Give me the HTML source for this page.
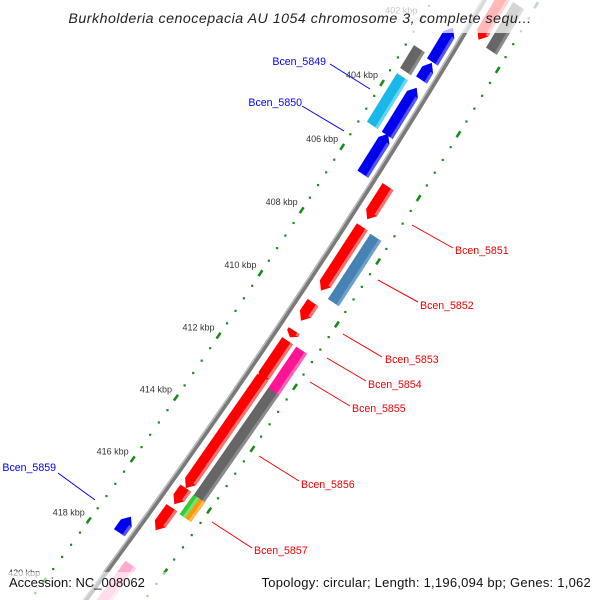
<!DOCTYPE html>
<html><head><meta charset="utf-8"><style>
html,body{margin:0;padding:0;background:#fff;width:600px;height:600px;overflow:hidden;}
svg{display:block;font-family:"Liberation Sans",sans-serif;overflow:hidden;}
</style></head><body>
<svg id="map" width="600" height="600" viewBox="0 0 600 600" xmlns="http://www.w3.org/2000/svg">
<g id="ticks"></g>
<g id="backbone"></g>
<g id="genes"></g>
<g id="labels" font-size="10.6"></g>
<g id="kbp" font-size="9" fill="#333"></g>
<rect x="0" y="0" width="600" height="33" fill="#fff" opacity="0.72"/>
<text x="300" y="23" text-anchor="middle" font-size="14.2" font-style="italic" fill="#222" letter-spacing="0.5">Burkholderia cenocepacia AU 1054 chromosome 3, complete sequ...</text>
<rect x="0" y="572" width="600" height="28" fill="#fff" opacity="0.6"/>
<text x="9" y="587" font-size="13" fill="#111">Accession: NC_008062</text>
<text x="591" y="587" text-anchor="end" font-size="13" fill="#111" letter-spacing="0.24">Topology: circular; Length: 1,196,094 bp; Genes: 1,062</text>
</svg>
<script>
// gene data (kbp)
var geneStart = [401.73,402.69,402.82,403.56,403.59,405.03,417.29,399.60,400.27,406.20,407.47,407.50,409.87,410.77,411.09,411.09,412.26,412.42,415.85,416.49,415.88,415.88,418.35];
var geneEnd   = [402.79,403.40,403.35,405.08,405.08,406.30,417.82,401.62,401.68,407.23,409.49,409.57,410.45,410.98,412.42,412.50,415.85,415.96,416.38,417.23,416.52,416.52,420.60];
var geneLane  = ['fo','fi','fo','fi','fo','fo','fo','ri','ro','ri','ri','ro','ri','ri','ri','ro','ri','ro','ri','ri','g','o','ri'];
var geneArrow = [1,0,1,0,1,1,1,1,0,1,1,0,1,1,1,0,1,0,1,1,0,0,0];
var geneColor = ['#0000ee','#666666','#0000ee','#1ab8e8','#0000ee','#0000ee','#0000ee','#ff0000','#666666','#ff0000','#ff0000','#4682b4','#ff0000','#ff0000','#ff0000','#ff1493','#ff0000','#666666','#ff0000','#ff0000','#33cc33','#ff9900','#ffaad0'];
var geneLight = ['#5555ff','#8a8a8a','#5555ff','#66d6f8','#5555ff','#5555ff','#5555ff','#ff7070','#8a8a8a','#ff7070','#ff7070','#6fa0cc','#ff7070','#ff7070','#ff7070','#ff66b8','#ff7070','#8a8a8a','#ff7070','#ff7070','#77e077','#ffbb55','#ffd0e6'];
var tickMajor = [400,402,404,406,408,410,412,414,416,418,420];
var tickLabels = ['400 kbp','402 kbp','404 kbp','406 kbp','408 kbp','410 kbp','412 kbp','414 kbp','416 kbp','418 kbp','420 kbp'];

var NS='http://www.w3.org/2000/svg';
var O=[465.8,-42], U=[-0.557,0.831], N=[0.831,0.557], PXK=37.6;
function tOf(k){return (k-400)*PXK;}
function bulge(t){return 5-(t-412)*(t-412)/13780;}
function P(t,r){var rr=r+bulge(t);return [O[0]+t*U[0]+rr*N[0], O[1]+t*U[1]+rr*N[1]];}
function pts(a){return a.map(function(p){return p[0].toFixed(1)+','+p[1].toFixed(1);}).join(' ');}
function el(tag,attrs,parent){var e=document.createElementNS(NS,tag);for(var k in attrs)e.setAttribute(k,attrs[k]);parent.appendChild(e);return e;}
var laneR={fi:14,fo:32,ri:60,ro:77,g:73.5,o:80.5};
var laneW={fi:13,fo:13,ri:13,ro:13,g:7,o:7};

// ticks
var tg=document.getElementById('ticks');
[0,92].forEach(function(rt,ti){
  for(var k=399.6;k<=420.8;k+=0.4){
    var kk=Math.round(k*10)/10;var t=tOf(kk);
    var major=Math.abs(kk/2-Math.round(kk/2))<0.01;
    if(major){var a=P(t-3.5,rt),b=P(t+3.5,rt);
      var d=el('line',{x1:a[0],y1:a[1],x2:b[0],y2:b[1],stroke:'#1a8a1a','stroke-width':2.6},tg);
      
    }else{var c=P(t,rt);
      var dt=el('rect',{x:c[0]-1,y:c[1]-1,width:2.2,height:2.2,fill:'#1a8a1a'},tg);
      }
  }
});
var kg=document.getElementById('kbp');
tickMajor.forEach(function(k,i){var c=P(tOf(k),0);
  var tx=el('text',{x:c[0]-4,y:c[1]-5,'text-anchor':'end'},kg);tx.textContent=tickLabels[i];
  });

// backbone
var bg=document.getElementById('backbone');
var bb=[],bl=[];for(var t=-80;t<=760;t+=20){bb.push(P(t,44.5));bl.push(P(t,42.8));}
var l1=el('polyline',{points:pts(bb),fill:'none',stroke:'#7a7a7a','stroke-width':5},bg);

var l2=el('polyline',{points:pts(bl),fill:'none',stroke:'#bdbdbd','stroke-width':1.4},bg);


// genes
var gg=document.getElementById('genes');
for(var i=0;i<geneStart.length;i++){
  var t0=tOf(geneStart[i]),t1=tOf(geneEnd[i]),L=geneLane[i],r=laneR[L],w=laneW[L];
  var ra=r-w/2,rb=r+w/2,h=Math.min(8,(t1-t0)*0.6),poly,strip;
  var fwd=(L==='fi'||L==='fo');
  if(!geneArrow[i]){
    poly=[P(t0,ra),P(t1,ra),P(t1,rb),P(t0,rb)];
    strip=[P(t0,rb-3),P(t1,rb-3),P(t1,rb),P(t0,rb)];
  }else if(fwd){
    poly=[P(t0,r),P(t0+h,ra),P(t1,ra),P(t1,rb),P(t0+h,rb)];
    strip=[P(t0+h,rb-3),P(t1,rb-3),P(t1,rb),P(t0+h,rb)];
  }else{
    poly=[P(t0,ra),P(t1-h,ra),P(t1,r),P(t1-h,rb),P(t0,rb)];
    strip=[P(t0,rb-3),P(t1-h,rb-3),P(t1-h,rb),P(t0,rb)];
  }
  var g=el('polygon',{points:pts(poly),fill:geneColor[i]},gg);
  
  var s=el('polygon',{points:pts(strip),fill:geneLight[i]},gg);
  
}

// labels
var labelText=['Bcen_5849','Bcen_5850','Bcen_5859','Bcen_5851','Bcen_5852','Bcen_5853','Bcen_5854','Bcen_5855','Bcen_5856','Bcen_5857'];
var labelX=[326,302,56,455,420,385,368,352,301,254];
var labelY=[65,106,471,254,309,363,388,412,488,554];
var lineA=[[330,64,370,89],[302,106,344,131],[58,473,95,500],[412,225,453,248],[378,280,418,302],[343,334,382,357],[327,358,366,381],[310,382,350,406],[259,456,299,481],[212,522,252,548]];
var lg=document.getElementById('labels');
for(var j=0;j<labelText.length;j++){
  var col=j<3?'#0000ee':'#ee0000';
  var ln=lineA[j];
  var li=el('line',{x1:ln[0],y1:ln[1],x2:ln[2],y2:ln[3],stroke:col,'stroke-width':1},lg);
  
  var tx=el('text',{x:labelX[j],y:labelY[j],fill:col,'text-anchor':j<3?'end':'start'},lg);
  tx.textContent=labelText[j];
  
}
</script>
</body></html>
